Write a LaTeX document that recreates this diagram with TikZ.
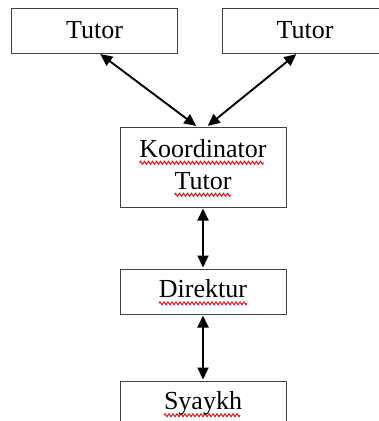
\documentclass[tikz,border=0pt]{standalone}
\usepackage{fontspec}
\setmainfont{Liberation Serif}
\usetikzlibrary{arrows.meta,calc}
\definecolor{boxstroke}{HTML}{404040}
\definecolor{spellred}{HTML}{E02020}
\newsavebox\waveunit
\newsavebox\wordbox
\AtBeginDocument{\sbox\waveunit{\begin{pgfpicture}
  \pgfsetlinewidth{1.1pt}\pgfsetstrokecolor{spellred}
  \pgfpathmoveto{\pgfpointorigin}
  \pgfpathsine{\pgfpoint{1pt}{1.4pt}}\pgfpathcosine{\pgfpoint{1pt}{-1.4pt}}
  \pgfpathsine{\pgfpoint{1pt}{-1.4pt}}\pgfpathcosine{\pgfpoint{1pt}{1.4pt}}
  \pgfusepath{stroke}
  \pgfresetboundingbox
  \pgfpathrectanglecorners{\pgfpointorigin}{\pgfpoint{4pt}{0pt}}
  \pgfusepath{use as bounding box}
\end{pgfpicture}}}
\newcommand\spellwave[1]{\sbox\wordbox{#1}\rlap{\raisebox{-5.5pt}{\hbox to\wd\wordbox{\leaders\copy\waveunit\hfill}}}\usebox\wordbox}
\tikzset{
  role/.style={
    rectangle, draw=boxstroke, line width=1pt, fill=white,
    minimum width=166pt, align=center, inner sep=2pt,
    font=\fontsize{26}{32}\selectfont
  },
  link/.style={
    {Triangle[length=12pt,width=11pt]}-{Triangle[length=12pt,width=11pt]},
    draw=black, line width=1.9pt, shorten >=1pt, shorten <=1pt
  }
}
\begin{document}
\begin{tikzpicture}[x=1pt,y=-1pt]
  \useasboundingbox (0,0) rectangle (379,421);
  \node[role, minimum height=45pt] (tutorA) at (94.5,30.5) {Tutor};
  \node[role, minimum height=45pt] (tutorB) at (305,30.5) {Tutor};
  \node[role, minimum height=80pt] (koord) at (203,167) {\spellwave{Koordinator}\\\spellwave{Tutor}};
  \node[role, minimum height=45pt] (direk) at (203,291.5) {\spellwave{Direktur}};
  \node[role, minimum height=45pt] (syaykh) at (203,403.5) {\spellwave{Syaykh}};

  % tutors to coordinator
  \draw[link] ([xshift=5pt]tutorA.south) -- ([xshift=-6pt]koord.north);
  \draw[link] ([xshift=-8pt]tutorB.south) -- ([xshift=4pt]koord.north);

  % chain down
  \draw[link] (koord.south) -- (direk.north);
  \draw[link] (direk.south) -- (syaykh.north);
\end{tikzpicture}
\end{document}
